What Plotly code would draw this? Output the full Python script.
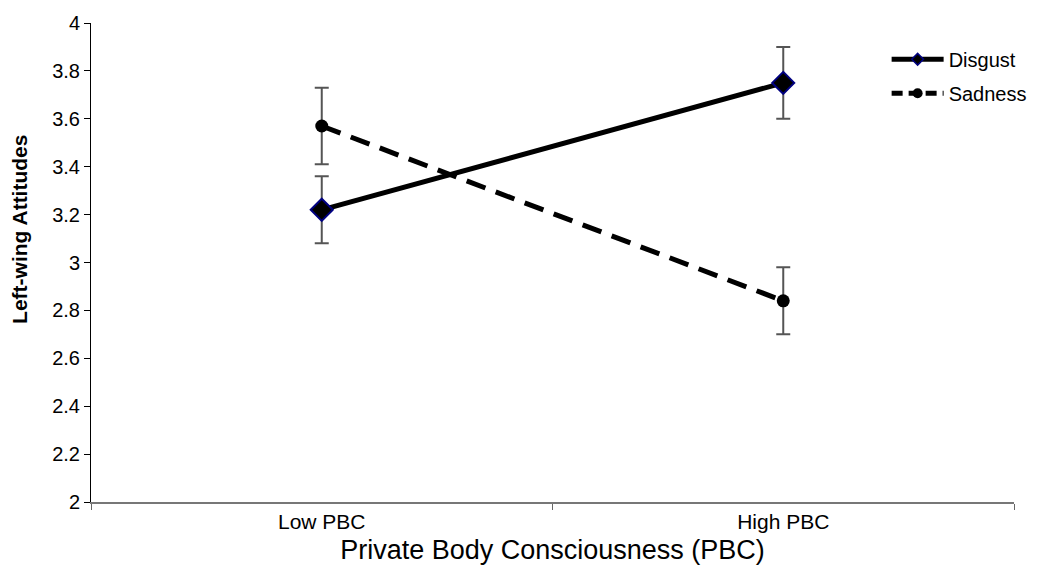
import plotly.graph_objects as go

# Data
categories = ["Low PBC", "High PBC"]
disgust = [3.22, 3.75]
disgust_err = [0.14, 0.15]
sadness = [3.57, 2.84]
sadness_err = [0.16, 0.14]
y_ticks = [2, 2.2, 2.4, 2.6, 2.8, 3, 3.2, 3.4, 3.6, 3.8, 4]
y_tick_labels = ["2", "2.2", "2.4", "2.6", "2.8", "3", "3.2", "3.4", "3.6", "3.8", "4"]

FONT = "Liberation Sans, Arial, sans-serif"

fig = go.Figure()

# Plotted series (legend entries are drawn by the key traces below)
fig.add_trace(go.Scatter(
    x=categories, y=disgust, name="Disgust", mode="lines+markers",
    showlegend=False,
    line=dict(color="black", width=5),
    marker=dict(symbol="diamond", size=17, color="black",
                line=dict(color="#000080", width=2)),
    error_y=dict(type="data", array=disgust_err, color="#555555",
                 thickness=2, width=7),
))

fig.add_trace(go.Scatter(
    x=categories, y=sadness, name="Sadness", mode="lines+markers",
    showlegend=False,
    line=dict(color="black", width=5, dash="20px,11px"),
    marker=dict(symbol="circle", size=13, color="black"),
    error_y=dict(type="data", array=sadness_err, color="#555555",
                 thickness=2, width=7),
))

# Legend keys with a shorter dash so the pattern reads in the small sample
fig.add_trace(go.Scatter(
    x=[None], y=[None], name="Disgust", mode="lines+markers",
    legendgroup="d",
    line=dict(color="black", width=5),
    marker=dict(symbol="diamond", size=9, color="black",
                line=dict(color="#000080", width=1.5)),
))
fig.add_trace(go.Scatter(
    x=[None], y=[None], name="Sadness", mode="lines+markers",
    legendgroup="s",
    line=dict(color="black", width=5, dash="11px,6px"),
    marker=dict(symbol="circle", size=10, color="black"),
))

# Vertical axis title, set slightly above the plot's mid-height
fig.add_annotation(
    text="<b>Left-wing Attitudes</b>", textangle=-90,
    xref="paper", yref="paper", x=-0.077, y=0.57,
    xanchor="center", yanchor="middle", showarrow=False,
    font=dict(size=21, family=FONT, color="black"),
)

fig.update_layout(
    width=1046, height=579,
    margin=dict(l=91, r=32, t=17, b=77),
    paper_bgcolor="white", plot_bgcolor="white",
    font=dict(family=FONT, color="black", size=17),
    legend=dict(x=0.862, y=0.965, xanchor="left", yanchor="top",
                font=dict(size=20), itemwidth=52, tracegroupgap=5,
                bgcolor="rgba(0,0,0,0)"),
    xaxis=dict(
        type="category", range=[-0.5, 1.5], tickson="boundaries",
        ticks="outside", ticklen=6, tickcolor="#666666",
        showline=True, linecolor="#777777", linewidth=2,
        showgrid=False, zeroline=False,
        tickfont=dict(size=21),
        title=dict(text="Private Body Consciousness (PBC)",
                   font=dict(size=27), standoff=8),
    ),
    yaxis=dict(
        range=[2, 4], tickvals=y_ticks, ticktext=y_tick_labels,
        ticks="outside", ticklen=6, tickcolor="black",
        showline=True, linecolor="black", linewidth=1,
        showgrid=False, zeroline=False,
        tickfont=dict(size=20),
    ),
)

fig.write_html("out.html")
